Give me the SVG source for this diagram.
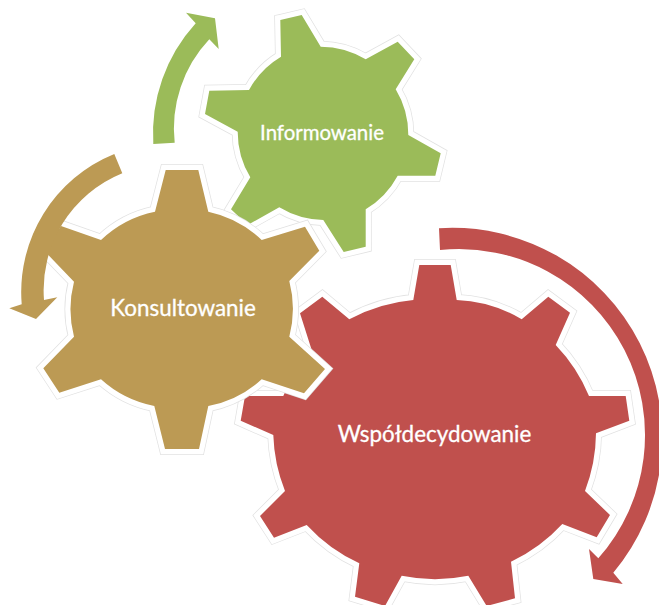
<svg xmlns="http://www.w3.org/2000/svg" width="659" height="605" viewBox="0 0 659 605">
<style>
.halo{fill:none;stroke:#e2e2e2;stroke-width:12;stroke-linejoin:miter}
.edge{stroke:#fff;stroke-width:10.5;stroke-linejoin:miter;paint-order:stroke}
.g{fill:#9bbb59}.b{fill:#bc9a54}.r{fill:#c0504d}
text{font-family:"Lato","Open Sans",sans-serif;fill:#fff;stroke:#fff;stroke-width:.3;text-anchor:middle}
.s{font-size:20.4px}.l{font-size:22.4px}
</style>
<defs>
<path id="pr" d="M419.3 265L450.7 265L456.7 300A137 137 0 0 1 521.7 319.3L548.3 296.7L570 312.7L555.7 345A165 165 0 0 1 589 396L625.7 396L629.3 420.7L596 433.3A165 165 0 0 1 585 491L610 515L596.7 537.3L562.3 524A165 165 0 0 1 511 561.7L515 598.3L486.7 606L468.3 575.7A165 165 0 0 1 401.7 575.7L385 606L355 596.7L359.3 563.3A165 165 0 0 1 306.7 525L274 537.7L260 516L285 491A165 165 0 0 1 273.3 435L240.7 420.7L245 396L283.3 396A165 165 0 0 1 311.7 350L300 313.3L322.3 296.7L349.3 319.3A165 165 0 0 1 413.3 300Z"/>
<path id="pg" d="M280.3 20L301.7 15L320.7 46.7A88 88 0 0 1 365.7 59.3L397.7 41.7L414.3 59.3L395.7 89.3A88 88 0 0 1 408.3 135L440.7 153.3L435.3 175.7L397.7 175.7A88 88 0 0 1 365.7 209.3L365.7 246.7L343.7 252L323.3 220A88 88 0 0 1 279.3 207.3L247.7 225L231 209.3L250.3 177.3A88 88 0 0 1 237.7 131.7L205 114L209.3 90.7L249 90A88 88 0 0 1 281 56.7Z"/>
<path id="pb" d="M165.7 170L198.3 170L208.3 211.7A110 110 0 0 1 261.7 240L305 226.7L319.3 250.7L289.3 281A110 110 0 0 1 289.3 336.7L325 369L304 393.3L261.7 379.3A110 110 0 0 1 208.3 406L199 449L165 449L154.3 406A110 110 0 0 1 101 379.3L59.3 392.7L43.3 368.3L74 336.7A110 110 0 0 1 74 281.7L43.5 250L61 226L101 240A110 110 0 0 1 155 211.7Z"/>
</defs>
<g id="node-wspoldecydowanie">
<use href="#pr" class="halo"/>
<use href="#pr" class="r edge"/>
<text class="l" x="434.5" y="441.5">Współdecydowanie</text>
</g>
<g id="node-informowanie">
<use href="#pg" class="halo"/>
<use href="#pg" class="g edge"/>
<text class="s" x="322" y="140">Informowanie</text>
</g>
<g id="node-konsultowanie">
<use href="#pb" class="halo"/>
<use href="#pb" class="b edge"/>
<text class="l" x="183" y="316">Konsultowanie</text>
</g>
<g id="connectors">
<path class="g" d="M153.3 144A164 164 0 0 1 195.7 23.3L186 12.7L215 18.3L218.7 49L209.3 39.3A130 130 0 0 0 174.7 142.7Z"/>
<path class="b" d="M114.3 154A149 149 0 0 0 21.7 304.3L9.3 308.3L36 319L57.3 297.3L44 300A126 126 0 0 1 122.3 173.3Z"/>
<path class="r" d="M439 228.3A210 210 0 0 1 613.3 572.7L622.7 584L593.3 579L589 549L598.3 558.3A186 186 0 0 0 440 250Z"/>
</g>
</svg>
